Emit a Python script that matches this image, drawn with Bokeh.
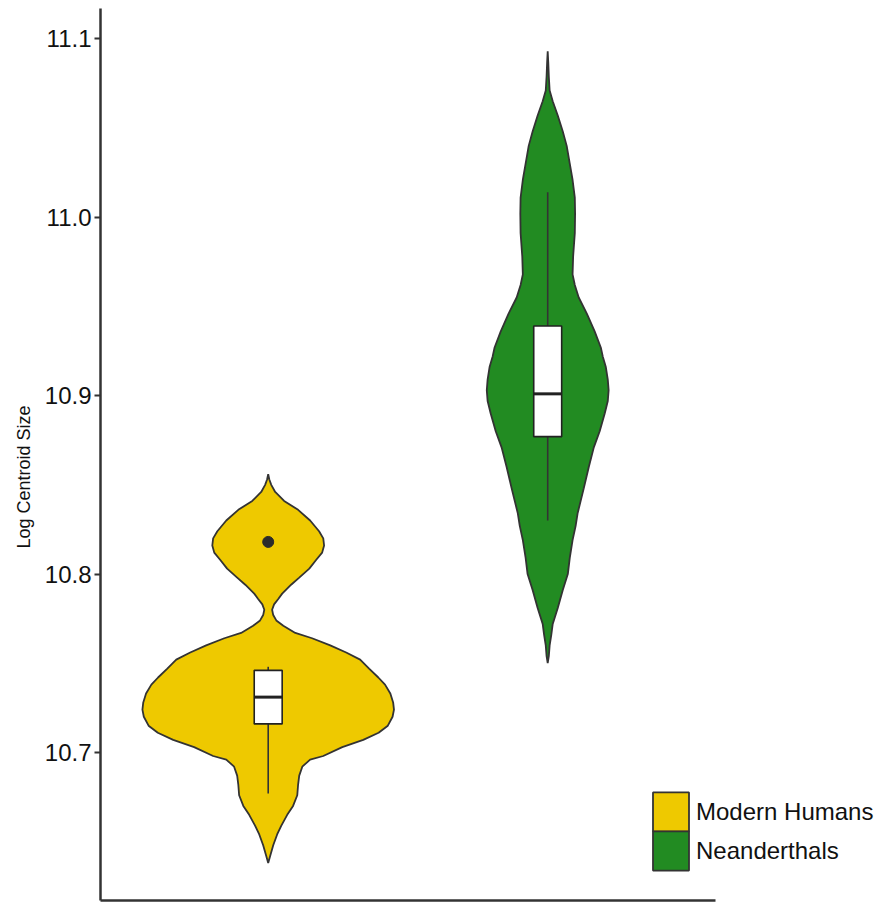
from bokeh.plotting import figure
from bokeh.models import Range1d, FixedTicker, PrintfTickFormatter, Legend, LegendItem, ColumnDataSource, Title
from bokeh.embed import file_html
from bokeh.resources import INLINE

# Groups and their fill colours
groups = ["Modern Humans", "Neanderthals"]
fill_colors = ["#EEC900", "#228B22"]

# Violin outlines: log centroid size vs. half-width (x units)
mh_y = [10.638, 10.642, 10.648, 10.654, 10.659, 10.665, 10.670, 10.676, 10.682, 10.687,
        10.692, 10.696, 10.698, 10.703, 10.707, 10.711, 10.715, 10.720, 10.724, 10.728,
        10.733, 10.738, 10.742, 10.747, 10.752, 10.756, 10.760, 10.764, 10.767, 10.771,
        10.774, 10.777, 10.780, 10.783, 10.786, 10.789, 10.794, 10.798, 10.803, 10.808,
        10.812, 10.816, 10.820, 10.824, 10.830, 10.836, 10.841, 10.846, 10.850, 10.853,
        10.856]
mh_half = [0.000, 0.007, 0.018, 0.032, 0.047, 0.068, 0.089, 0.104, 0.107, 0.111,
           0.122, 0.150, 0.197, 0.265, 0.340, 0.395, 0.428, 0.445, 0.450, 0.447,
           0.437, 0.418, 0.394, 0.361, 0.329, 0.279, 0.222, 0.157, 0.097, 0.054,
           0.029, 0.018, 0.014, 0.021, 0.036, 0.050, 0.082, 0.111, 0.147, 0.172,
           0.193, 0.200, 0.197, 0.182, 0.150, 0.107, 0.057, 0.025, 0.011, 0.004,
           0.000]

ne_y = [10.750, 10.754, 10.760, 10.766, 10.772, 10.781, 10.791, 10.800, 10.809, 10.819,
        10.827, 10.834, 10.841, 10.848, 10.860, 10.871, 10.880, 10.890, 10.897, 10.903,
        10.909, 10.916, 10.922, 10.927, 10.936, 10.946, 10.955, 10.962, 10.968, 10.978,
        10.991, 11.002, 11.011, 11.021, 11.030, 11.040, 11.048, 11.057, 11.065, 11.071,
        11.079, 11.087, 11.093]
ne_half = [0.000, 0.004, 0.007, 0.013, 0.018, 0.036, 0.054, 0.072, 0.079, 0.089,
           0.100, 0.107, 0.118, 0.129, 0.147, 0.165, 0.186, 0.204, 0.215, 0.218,
           0.215, 0.208, 0.197, 0.190, 0.168, 0.140, 0.111, 0.097, 0.089, 0.091,
           0.097, 0.098, 0.097, 0.089, 0.079, 0.068, 0.054, 0.036, 0.018, 0.007,
           0.004, 0.002, 0.000]

# Box-plot statistics per group
q1 = [10.716, 10.877]
median = [10.731, 10.901]
q3 = [10.746, 10.939]
whisker_lo = [10.677, 10.830]
whisker_hi = [10.748, 11.014]

# Outliers
outlier_group = ["Modern Humans"]
outlier_y = [10.818]

y_ticks = [10.7, 10.8, 10.9, 11.0, 11.1]
y_title = "Log Centroid Size"

profiles = {"Modern Humans": (mh_y, mh_half), "Neanderthals": (ne_y, ne_half)}
pos = {g: i + 1 for i, g in enumerate(groups)}
box_half = 0.05

# The frame runs to the right edge so the legend has room; the x axis line
# itself is bounded to the category panel (0.4 .. 2.6).
p = figure(width=884, height=903, frame_width=784, frame_height=892,
           x_range=Range1d(0.4, 3.205), y_range=Range1d(10.617, 11.117),
           output_backend="svg", toolbar_location=None,
           min_border_left=100, min_border_right=0, min_border_top=8, min_border_bottom=3)
p.background_fill_color = "white"
p.border_fill_color = "white"
p.outline_line_color = None
p.grid.visible = False

# Violins
violin_renderers = []
for g, col in zip(groups, fill_colors):
    ys, hs = profiles[g]
    c = pos[g]
    xs = [c + h for h in hs] + [c - h for h in reversed(hs)]
    yy = list(ys) + list(reversed(ys))
    r = p.patch(xs, yy, fill_color=col, line_color="#333333", line_width=1.8)
    violin_renderers.append(r)

centers = [pos[g] for g in groups]
box_src = ColumnDataSource(dict(
    x=centers,
    left=[c - box_half for c in centers],
    right=[c + box_half for c in centers],
    q1=q1, q3=q3, med=median, lo=whisker_lo, hi=whisker_hi))

# Whiskers
p.segment(x0="x", y0="q3", x1="x", y1="hi", source=box_src, line_color="#333333", line_width=1.6)
p.segment(x0="x", y0="q1", x1="x", y1="lo", source=box_src, line_color="#333333", line_width=1.6)
# Boxes and medians
p.quad(left="left", right="right", bottom="q1", top="q3", source=box_src,
       fill_color="white", line_color="#222222", line_width=1.6)
p.segment(x0="left", y0="med", x1="right", y1="med", source=box_src,
          line_color="#222222", line_width=3)
# Outlier points
p.scatter([pos[g] for g in outlier_group], outlier_y, size=11, marker="circle",
          fill_color="#2b2b2b", line_color="#2b2b2b")

# Axes
ax_col = "#333333"
p.yaxis.ticker = FixedTicker(ticks=y_ticks)
p.yaxis.formatter = PrintfTickFormatter(format="%.1f")
p.yaxis.minor_tick_line_color = None
p.yaxis.major_tick_out = 6
p.yaxis.major_tick_in = 0
p.yaxis.major_tick_line_color = ax_col
p.yaxis.major_tick_line_width = 2
p.yaxis.axis_line_color = ax_col
p.yaxis.axis_line_width = 2.5
p.yaxis.major_label_text_font = "Liberation Sans"
p.yaxis.major_label_text_font_size = "24px"
p.yaxis.major_label_text_color = "#111111"
p.yaxis.major_label_standoff = 3

# y-axis title, anchored from the bottom of the frame
p.add_layout(Title(text=y_title, align="left", offset=352, standoff=15,
                   text_font="Liberation Sans", text_font_size="18px",
                   text_font_style="normal", text_color="#111111"), "left")

p.xaxis.ticker = FixedTicker(ticks=[])
p.xaxis.bounds = (0.4, 2.6)
p.xaxis.major_tick_line_color = None
p.xaxis.minor_tick_line_color = None
p.xaxis.major_label_text_color = None
p.xaxis.axis_line_color = ax_col
p.xaxis.axis_line_width = 2.5

# Legend: one stacked key per group so that the two colour swatches touch
legend_style = dict(orientation="vertical", glyph_width=45, glyph_height=49,
                    label_standoff=3, label_text_font="Liberation Sans",
                    label_text_font_size="24px", label_text_color="#111111",
                    padding=0, margin=0, border_line_color=None, background_fill_alpha=0)
legend_offsets = [(548, 64), (548, 25)]
for g, r, loc in zip(groups, violin_renderers, legend_offsets):
    p.add_layout(Legend(items=[LegendItem(label=g, renderers=[r])], location=loc, **legend_style))

open("out.html", "w").write(file_html(p, INLINE))
